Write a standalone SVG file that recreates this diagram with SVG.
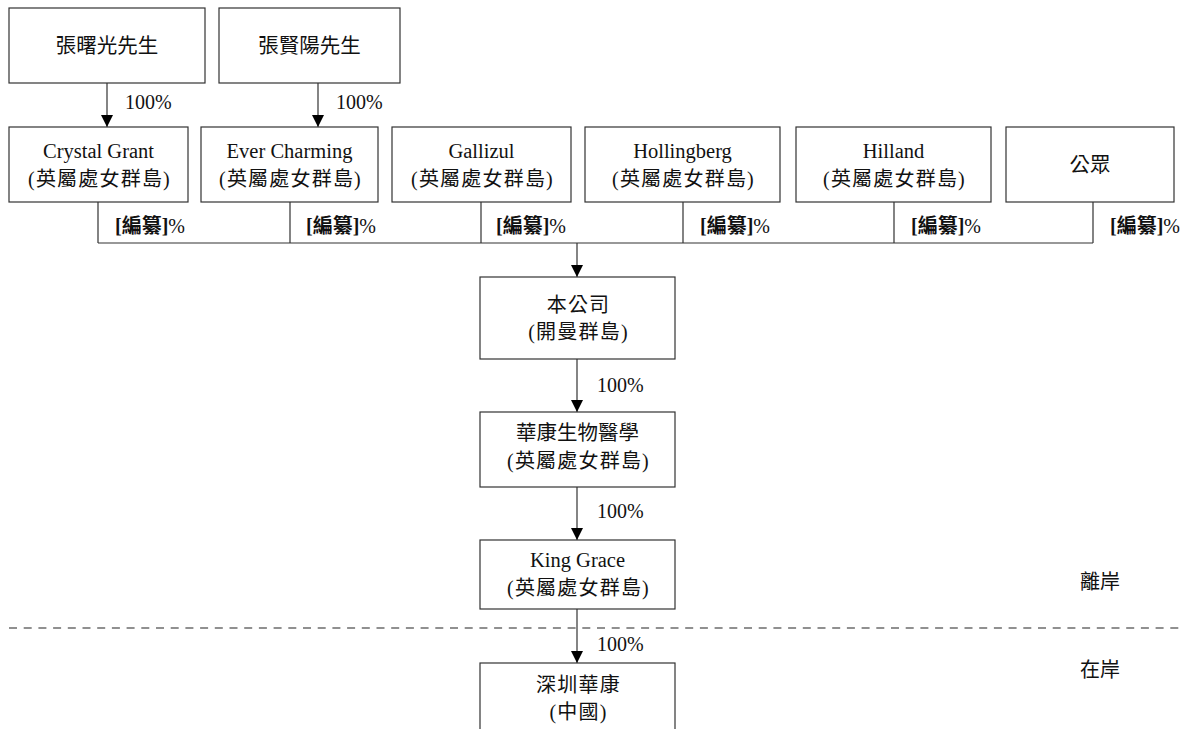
<svg xmlns="http://www.w3.org/2000/svg" width="1184" height="729" viewBox="0 0 1184 729">
<defs>
<marker id="ah" viewBox="0 0 12 12" refX="12" refY="6" markerWidth="12" markerHeight="12" markerUnits="userSpaceOnUse" orient="auto">
<path d="M0,0 L12,6 L0,12 z" fill="#000"/>
</marker>
<style>
.box{fill:#fff;stroke:#333;stroke-width:1.2}
.t{font-family:"Liberation Serif","Noto Sans CJK TC",serif;font-size:20.5px;fill:#111;text-anchor:middle}
.c{font-family:"Liberation Serif","Noto Sans CJK TC",serif;font-size:20px;fill:#111;text-anchor:middle;letter-spacing:1.2px}
.p{font-family:"Liberation Serif","Noto Sans CJK TC",serif;font-size:20px;fill:#111}
.b{font-weight:bold}
.ln{stroke:#333;stroke-width:1.2;fill:none}
.ar{stroke:#333;stroke-width:1.2;fill:none;marker-end:url(#ah)}
.dash{stroke:#222;stroke-width:1.2;stroke-dasharray:8 6.7;fill:none}
</style>
</defs>
<g id="connectors">
<path class="ar" d="M107,83 V127"/>
<path class="ar" d="M318,83 V127"/>
<path class="ln" d="M98,202 V243 M290,202 V243 M481,202 V243 M683,202 V243 M894,202 V243 M1093,202 V243 M98,243 H1093"/>
<path class="ar" d="M577,243 V277"/>
<path class="ar" d="M577,359 V412"/>
<path class="ar" d="M577,487 V540"/>
<path class="ar" d="M577,609 V663"/>
<path class="dash" d="M9,628 H1184"/>
</g>
<g id="labels">
<text class="p" x="125" y="109">100%</text>
<text class="p" x="336" y="109">100%</text>
<text class="p" x="115" y="233"><tspan class="b">[編纂]</tspan>%</text>
<text class="p" x="306" y="233"><tspan class="b">[編纂]</tspan>%</text>
<text class="p" x="496" y="233"><tspan class="b">[編纂]</tspan>%</text>
<text class="p" x="700" y="233"><tspan class="b">[編纂]</tspan>%</text>
<text class="p" x="911" y="233"><tspan class="b">[編纂]</tspan>%</text>
<text class="p" x="1110" y="233"><tspan class="b">[編纂]</tspan>%</text>
<text class="p" x="597" y="392">100%</text>
<text class="p" x="597" y="518">100%</text>
<text class="p" x="597" y="651">100%</text>
<text class="p" x="1080" y="589">離岸</text>
<text class="p" x="1080" y="677">在岸</text>
</g>
<g id="n1"><rect class="box" x="9" y="8" width="196" height="75"/><text class="t" x="107" y="53">張曙光先生</text></g>
<g id="n2"><rect class="box" x="219" y="8" width="181" height="75"/><text class="t" x="309.5" y="53">張賢陽先生</text></g>
<g id="n3"><rect class="box" x="9" y="127" width="179" height="75"/><text class="t" x="98.5" y="158">Crystal Grant</text><text class="c" x="99.5" y="186">(英屬處女群島)</text></g>
<g id="n4"><rect class="box" x="201" y="127" width="177" height="75"/><text class="t" x="289.5" y="158">Ever Charming</text><text class="c" x="290.5" y="186">(英屬處女群島)</text></g>
<g id="n5"><rect class="box" x="392" y="127" width="179" height="75"/><text class="t" x="481.5" y="158">Gallizul</text><text class="c" x="482.5" y="186">(英屬處女群島)</text></g>
<g id="n6"><rect class="box" x="585" y="127" width="195" height="75"/><text class="t" x="682.5" y="158">Hollingberg</text><text class="c" x="683.5" y="186">(英屬處女群島)</text></g>
<g id="n7"><rect class="box" x="796" y="127" width="195" height="75"/><text class="t" x="893.5" y="158">Hilland</text><text class="c" x="894.5" y="186">(英屬處女群島)</text></g>
<g id="n8"><rect class="box" x="1006" y="127" width="168" height="75"/><text class="t" x="1090" y="172">公眾</text></g>
<g id="n9"><rect class="box" x="480" y="277" width="195" height="82"/><text class="c" x="578.5" y="312">本公司</text><text class="c" x="578.5" y="339">(開曼群島)</text></g>
<g id="n10"><rect class="box" x="480" y="412" width="195" height="75"/><text class="t" x="577.5" y="440">華康生物醫學</text><text class="c" x="578.5" y="468">(英屬處女群島)</text></g>
<g id="n11"><rect class="box" x="480" y="540" width="195" height="69"/><text class="t" x="577.5" y="567">King Grace</text><text class="c" x="578.5" y="595">(英屬處女群島)</text></g>
<g id="n12"><rect class="box" x="480" y="663" width="195" height="80"/><text class="c" x="578.5" y="692">深圳華康</text><text class="c" x="578.5" y="719">(中國)</text></g>
</svg>
